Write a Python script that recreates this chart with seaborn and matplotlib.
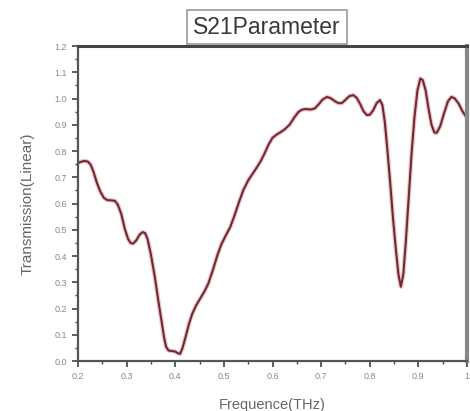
import numpy as np
import pandas as pd
import matplotlib
matplotlib.use("Agg")
import matplotlib.pyplot as plt
import seaborn as sns
from matplotlib.ticker import MultipleLocator, FixedLocator

freq = [0.200, 0.205, 0.212, 0.220, 0.226, 0.232, 0.239, 0.246, 0.253, 0.260,
        0.268, 0.276, 0.282, 0.289, 0.296, 0.303, 0.308, 0.313, 0.320, 0.327,
        0.333, 0.338, 0.343, 0.350, 0.358, 0.366, 0.372, 0.377, 0.381, 0.386,
        0.393, 0.400, 0.405, 0.410, 0.415, 0.421, 0.428, 0.435, 0.443, 0.452,
        0.460, 0.468, 0.478, 0.487, 0.495, 0.503, 0.513, 0.522, 0.531, 0.540,
        0.550, 0.560, 0.568, 0.576, 0.584, 0.592, 0.600, 0.608, 0.617, 0.626,
        0.635, 0.645, 0.653, 0.660, 0.668, 0.678, 0.687, 0.695, 0.703, 0.712,
        0.720, 0.728, 0.736, 0.743, 0.750, 0.758, 0.766, 0.773, 0.780, 0.787,
        0.794, 0.800, 0.807, 0.814, 0.821, 0.826, 0.831, 0.836, 0.842, 0.848,
        0.854, 0.859, 0.864, 0.869, 0.874, 0.880, 0.886, 0.892, 0.898, 0.904,
        0.909, 0.915, 0.921, 0.927, 0.933, 0.938, 0.945, 0.953, 0.961, 0.968,
        0.975, 0.983, 0.991, 1.000]
trans = [0.754, 0.758, 0.762, 0.760, 0.748, 0.720, 0.678, 0.645, 0.622, 0.613,
         0.612, 0.610, 0.595, 0.560, 0.505, 0.465, 0.450, 0.447, 0.460, 0.482,
         0.491, 0.487, 0.465, 0.405, 0.320, 0.220, 0.150, 0.090, 0.055, 0.040,
         0.038, 0.036, 0.030, 0.027, 0.050, 0.090, 0.140, 0.180, 0.212, 0.240,
         0.265, 0.295, 0.350, 0.405, 0.445, 0.475, 0.510, 0.555, 0.605, 0.651,
         0.688, 0.716, 0.738, 0.762, 0.792, 0.825, 0.850, 0.862, 0.872, 0.884,
         0.900, 0.928, 0.948, 0.957, 0.960, 0.958, 0.962, 0.978, 0.996, 1.006,
         1.001, 0.990, 0.982, 0.983, 0.995, 1.009, 1.013, 1.003, 0.980, 0.952,
         0.937, 0.938, 0.955, 0.982, 0.994, 0.975, 0.910, 0.810, 0.680, 0.540,
         0.420, 0.330, 0.283, 0.330, 0.450, 0.620, 0.790, 0.930, 1.030, 1.076,
         1.070, 1.030, 0.960, 0.900, 0.870, 0.870, 0.895, 0.945, 0.990, 1.006,
         1.000, 0.980, 0.950, 0.926]

x_ticks = [0.2, 0.3, 0.4, 0.5, 0.6, 0.7, 0.8, 0.9, 1.0]
x_ticklabels = ["0.2", "0.3", "0.4", "0.5", "0.6", "0.7", "0.8", "0.9", "1"]
y_ticks = [0.0, 0.1, 0.2, 0.3, 0.4, 0.5, 0.6, 0.7, 0.8, 0.9, 1.0, 1.1, 1.2]
y_ticklabels = ["0.0", "0.1", "0.2", "0.3", "0.4", "0.5", "0.6", "0.7", "0.8",
                "0.9", "1.0", "1.1", "1.2"]

df = pd.DataFrame({"Frequence": freq, "Transmission": trans})

sns.set_style("white")
plt.rcParams['font.family'] = ['Liberation Sans', 'DejaVu Sans']

fig = plt.figure(figsize=(4.70, 4.11), dpi=100)
ax = fig.add_axes([78/470, 1 - 361/411, (467-78)/470, (361-46)/411])

# faint reddish halo + main dark line
sns.lineplot(data=df, x="Frequence", y="Transmission", ax=ax,
             color="#e8a0a8", linewidth=3.2, alpha=0.6)
sns.lineplot(data=df, x="Frequence", y="Transmission", ax=ax,
             color="#6e2a32", linewidth=1.5)

ax.set_xlim(0.2, 1.0)
ax.set_ylim(0.0, 1.2)
ax.xaxis.set_major_locator(FixedLocator(x_ticks))
ax.set_xticklabels(x_ticklabels)
ax.yaxis.set_major_locator(FixedLocator(y_ticks))
ax.set_yticklabels(y_ticklabels)
ax.xaxis.set_minor_locator(MultipleLocator(0.05))
ax.yaxis.set_minor_locator(MultipleLocator(0.05))

ax.tick_params(axis="both", which="major", direction="out", length=4, width=1.2,
               color="#444444", labelsize=6.5, labelcolor="#888888", pad=4,
               bottom=True, left=True)
ax.tick_params(axis="both", which="minor", direction="out", length=2.5, width=1.0,
               color="#444444", bottom=True, left=True)

ax.set_xlabel("Frequence(THz)", fontsize=10.5, color="#666666", labelpad=12)
ax.set_ylabel("Transmission(Linear)", fontsize=11, color="#666666", labelpad=14)

for side in ["left", "bottom"]:
    ax.spines[side].set_color("#555555")
    ax.spines[side].set_linewidth(1.6)
ax.spines["top"].set_color("#444444")
ax.spines["top"].set_linewidth(2.2)
ax.spines["right"].set_color("#888888")
ax.spines["right"].set_linewidth(3.0)

fig.text(267/470, 1 - 27/411, "S21Parameter", ha="center", va="center",
         fontsize=16.5, color="#3a3a3a", zorder=10,
         bbox=dict(boxstyle="square,pad=0.25", facecolor="white",
                   edgecolor="#999999", linewidth=1.2))

fig.savefig("out.png", dpi=100, facecolor="white")
